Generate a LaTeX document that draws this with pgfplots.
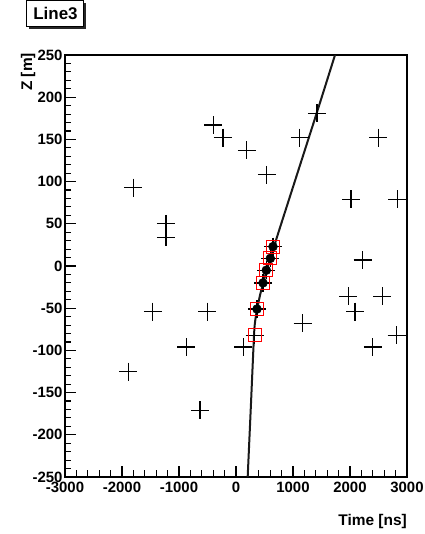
\documentclass[border=0pt]{standalone}
\usepackage{pgfplots}
\pgfplotsset{compat=1.18}
\usepackage{fontspec}
\setmainfont{Liberation Sans}
\usetikzlibrary{shadows}
\begin{document}
\begin{tikzpicture}
\path[use as bounding box] (-65bp,-57bp) rectangle (360bp,477bp);
\begin{axis}[
  at={(0bp,0bp)}, anchor=south west,
  scale only axis, width=342bp, height=422bp,
  xmin=-3000, xmax=3000, ymin=-250, ymax=250,
  axis line style={line width=1.2bp, black},
  xtick={-3000,-2000,...,3000},
  ytick={-250,-200,...,250},
  minor x tick num=4, minor y tick num=4,
  tick align=inside, xtick pos=bottom, ytick pos=left,
  major tick length=11bp, minor tick length=6.5bp,
  tick style={line width=1.1bp, black},
  scaled x ticks=false, scaled y ticks=false,
  /pgf/number format/1000 sep={},
  /pgf/number format/assume math mode=true,
  tick label style={font=\bfseries\fontsize{15}{15}\selectfont},
  xticklabel style={yshift=-2bp},
  yticklabel style={xshift=1bp},
  xlabel={Time [ns]},
  xlabel style={at={(axis description cs:1,-0.1066)}, anchor=east, font=\bfseries\fontsize{15.5}{15.5}\selectfont, inner sep=0pt},
  ylabel={Z [m]},
  ylabel style={at={(axis description cs:-0.108,1.005)}, anchor=east, font=\bfseries\fontsize{15.5}{15.5}\selectfont, inner sep=0pt},
  title={Line3},
  title style={at={(axis description cs:-0.0278,1.0853)}, anchor=center, draw=black, line width=1bp, fill=white,
    minimum width=57bp, minimum height=26bp, inner sep=0pt,
    drop shadow={shadow xshift=2.5bp, shadow yshift=-2.5bp, fill=black!85, opacity=1},
    font=\bfseries\fontsize{17}{17}\selectfont},
]
% fitted curve
\addplot[line width=2bp, black!90, smooth, tension=0.35] coordinates {
  (205,-250) (263,-163) (321,-76) (360,-55) (420,-35) (490,-17) (560,0)
  (650,19) (760,43) (1415,181) (1737,250)
};
% all hits
\addplot[only marks, mark=+, mark size=9bp, mark options={line width=1.3bp}, black] table {
x y
-1800 93
-1230 50
-1230 34
-400 167
-230 152
190 137
540 108
1120 152
1420 181
2500 152
2020 79
2830 79
2220 7
1970 -36
2570 -36
2090 -54
1170 -68
2820 -82
2400 -96
130 -96
-500 -54
-630 -171
-1460 -54
-870 -96
-1890 -125
649 23
602 9
532 -5
474 -20
368 -51
328 -82
};
% selected hits: dots
\addplot[only marks, mark=*, mark size=4.5bp, black] table {
x y
649 23
602 9
532 -5
474 -20
368 -51
};
% selected hits: red squares
\addplot[only marks, mark=square, mark size=6.5bp, mark options={line width=1bp}, red] table {
x y
649 23
602 9
532 -5
474 -20
368 -51
328 -82
};
\end{axis}
\end{tikzpicture}
\end{document}
